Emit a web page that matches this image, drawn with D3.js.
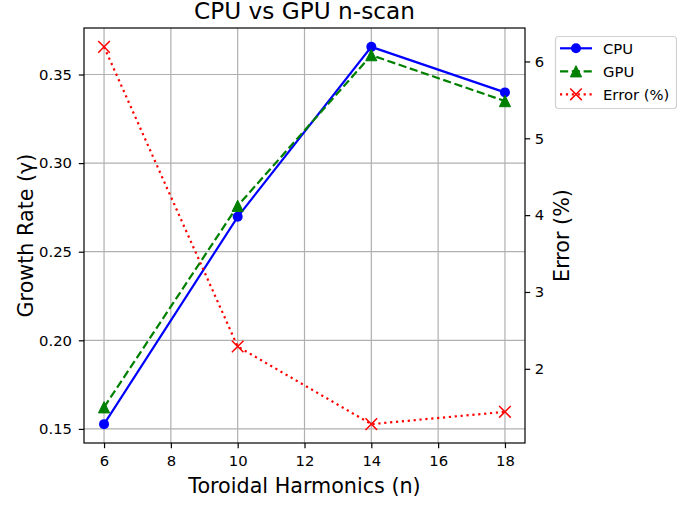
<!DOCTYPE html>
<html>
<head>
<meta charset="utf-8">
<script src="https://cdn.jsdelivr.net/npm/d3@7"></script>
<style>
    body { margin: 0; background: #ffffff; }
    svg text { font-family: "DejaVu Sans", sans-serif; fill: #000000; }
</style>
</head>
<body>
<script>
// datos
var armonicos = [6, 10, 14, 18];
var crecimientoCPU = [0.1527, 0.2697, 0.3656, 0.3399];
var crecimientoGPU = [0.1622, 0.2759, 0.3609, 0.3350];
var errorPct = [6.19, 2.29, 1.28, 1.44];

var ticksX = [6, 8, 10, 12, 14, 16, 18];
var ticksIzq = [0.15, 0.20, 0.25, 0.30, 0.35];
var ticksDer = [2, 3, 4, 5, 6];

var width = 677;
var height = 506;

var margen = {
    arriba: 28,
    abajo: 63,
    izquierda: 84,
    derecha: 152
}

// margen del 5% como matplotlib
function conMargen(valores) {
    var ext = d3.extent(valores);
    var pad = (ext[1] - ext[0]) * 0.05;
    return [ext[0] - pad, ext[1] + pad];
}

var escalaX = d3.scaleLinear()
    .domain(conMargen(armonicos))
    .range([margen.izquierda, width - margen.derecha])

var escalaY = d3.scaleLinear()
    .domain(conMargen(crecimientoCPU.concat(crecimientoGPU)))
    .range([height - margen.abajo, margen.arriba])

var escalaError = d3.scaleLinear()
    .domain(conMargen(errorPct))
    .range([height - margen.abajo, margen.arriba])

var svg = d3.select("body")
    .append("svg")
    .attr("width", width)
    .attr("height", height)

var x0 = margen.izquierda, x1 = width - margen.derecha;
var y0 = margen.arriba, y1 = height - margen.abajo;

// rejilla
svg.append("g")
    .selectAll("line")
    .data(ticksX)
    .join("line")
    .attr("x1", d => escalaX(d)).attr("x2", d => escalaX(d))
    .attr("y1", y0).attr("y2", y1)
    .attr("stroke", "#b0b0b0")
    .attr("stroke-width", 1.2)

svg.append("g")
    .selectAll("line")
    .data(ticksIzq)
    .join("line")
    .attr("x1", x0).attr("x2", x1)
    .attr("y1", d => escalaY(d)).attr("y2", d => escalaY(d))
    .attr("stroke", "#b0b0b0")
    .attr("stroke-width", 1.2)

var linea = d3.line()

// CPU
var puntosCPU = armonicos.map((n, i) => [escalaX(n), escalaY(crecimientoCPU[i])]);
svg.append("path")
    .attr("d", linea(puntosCPU))
    .attr("fill", "none")
    .attr("stroke", "blue")
    .attr("stroke-width", 2.2)
svg.append("g")
    .selectAll("circle")
    .data(puntosCPU)
    .join("circle")
    .attr("cx", d => d[0])
    .attr("cy", d => d[1])
    .attr("r", 5)
    .attr("fill", "blue")

// GPU
var puntosGPU = armonicos.map((n, i) => [escalaX(n), escalaY(crecimientoGPU[i])]);
svg.append("path")
    .attr("d", linea(puntosGPU))
    .attr("fill", "none")
    .attr("stroke", "green")
    .attr("stroke-width", 2.2)
    .attr("stroke-dasharray", "8.2,3.6")

function triangulo(cx, cy, s) {
    return "M" + cx + "," + (cy - s) + "L" + (cx - s) + "," + (cy + s) + "L" + (cx + s) + "," + (cy + s) + "Z";
}
function cruz(cx, cy, s) {
    return "M" + (cx - s) + "," + (cy - s) + "L" + (cx + s) + "," + (cy + s) +
        "M" + (cx - s) + "," + (cy + s) + "L" + (cx + s) + "," + (cy - s);
}

svg.append("g")
    .selectAll("path")
    .data(puntosGPU)
    .join("path")
    .attr("d", d => triangulo(d[0], d[1], 5.6))
    .attr("fill", "green")
    .attr("stroke", "green")
    .attr("stroke-width", 1)

// marco del grafico
svg.append("rect")
    .attr("x", x0).attr("y", y0)
    .attr("width", x1 - x0).attr("height", y1 - y0)
    .attr("fill", "none")
    .attr("stroke", "#000")
    .attr("stroke-width", 1.2)

// Error en el eje derecho
var puntosError = armonicos.map((n, i) => [escalaX(n), escalaError(errorPct[i])]);
svg.append("path")
    .attr("d", linea(puntosError))
    .attr("fill", "none")
    .attr("stroke", "red")
    .attr("stroke-width", 2.2)
    .attr("stroke-dasharray", "2.2,3.7")
svg.append("g")
    .selectAll("path")
    .data(puntosError)
    .join("path")
    .attr("d", d => cruz(d[0], d[1], 5.8))
    .attr("fill", "none")
    .attr("stroke", "red")
    .attr("stroke-width", 1.5)

// ejes
var ejeX = d3.axisBottom(escalaX)
    .tickValues(ticksX)
    .tickSize(5.2)
    .tickPadding(7.3)
    .tickSizeOuter(0)
var gX = svg.append("g")
    .attr("transform", "translate(0," + y1 + ")")
    .call(ejeX)

var ejeY = d3.axisLeft(escalaY)
    .tickValues(ticksIzq)
    .tickFormat(d3.format(".2f"))
    .tickSize(5.2)
    .tickPadding(6.8)
    .tickSizeOuter(0)
var gY = svg.append("g")
    .attr("transform", "translate(" + x0 + ",0)")
    .call(ejeY)

var ejeDer = d3.axisRight(escalaError)
    .tickValues(ticksDer)
    .tickFormat(d3.format("d"))
    .tickSize(5.2)
    .tickPadding(4.5)
    .tickSizeOuter(0)
var gD = svg.append("g")
    .attr("transform", "translate(" + x1 + ",0)")
    .call(ejeDer)

;[gX, gY, gD].forEach(function (g) {
    g.select(".domain").remove()
    g.selectAll(".tick line").attr("stroke", "#000").attr("stroke-width", 1.2)
    g.selectAll(".tick text")
        .style("font-family", "DejaVu Sans")
        .style("font-size", "14.8px")
        .attr("fill", "#000")
})

// titulos
svg.append("text")
    .attr("x", (x0 + x1) / 2)
    .attr("y", 18.5)
    .attr("text-anchor", "middle")
    .style("font-size", "23.2px")
    .text("CPU vs GPU n-scan")

svg.append("text")
    .attr("x", (x0 + x1) / 2)
    .attr("y", 493)
    .attr("text-anchor", "middle")
    .style("font-size", "20.7px")
    .text("Toroidal Harmonics (n)")

svg.append("text")
    .attr("transform", "translate(33," + (y0 + y1) / 2 + ") rotate(-90)")
    .attr("text-anchor", "middle")
    .style("font-size", "20.7px")
    .text("Growth Rate (γ)")

svg.append("text")
    .attr("transform", "translate(569," + (y0 + y1) / 2 + ") rotate(-90)")
    .attr("text-anchor", "middle")
    .style("font-size", "20.7px")
    .text("Error (%)")

// leyenda
var leyenda = svg.append("g")
    .attr("transform", "translate(555,36)")

leyenda.append("rect")
    .attr("x", 0.5).attr("y", 0.5)
    .attr("width", 121).attr("height", 72)
    .attr("rx", 3)
    .attr("fill", "#fff")
    .attr("fill-opacity", 0.8)
    .attr("stroke", "#d0d0d0")
    .attr("stroke-width", 1.2)

var itemsLeyenda = [
    { nombre: "CPU", color: "blue", guion: null, marca: "circulo" },
    { nombre: "GPU", color: "green", guion: "8.2,3.6", marca: "triangulo" },
    { nombre: "Error (%)", color: "red", guion: "2.2,3.7", marca: "cruz" }
]

itemsLeyenda.forEach(function (d, i) {
    var yy = 12.3 + i * 23;
    leyenda.append("line")
        .attr("x1", 5).attr("x2", 37)
        .attr("y1", yy).attr("y2", yy)
        .attr("stroke", d.color)
        .attr("stroke-width", 2.2)
        .attr("stroke-dasharray", d.guion)
    if (d.marca == "circulo") {
        leyenda.append("circle").attr("cx", 21).attr("cy", yy).attr("r", 5).attr("fill", d.color)
    } else if (d.marca == "triangulo") {
        leyenda.append("path").attr("d", triangulo(21, yy, 5.6))
            .attr("fill", d.color).attr("stroke", d.color).attr("stroke-width", 1)
    } else {
        leyenda.append("path").attr("d", cruz(21, yy, 5.8))
            .attr("fill", "none").attr("stroke", d.color).attr("stroke-width", 1.5)
    }
    leyenda.append("text")
        .attr("x", 48)
        .attr("y", yy)
        .attr("dy", "0.36em")
        .style("font-size", "14.8px")
        .text(d.nombre)
})
</script>
</body>
</html>
